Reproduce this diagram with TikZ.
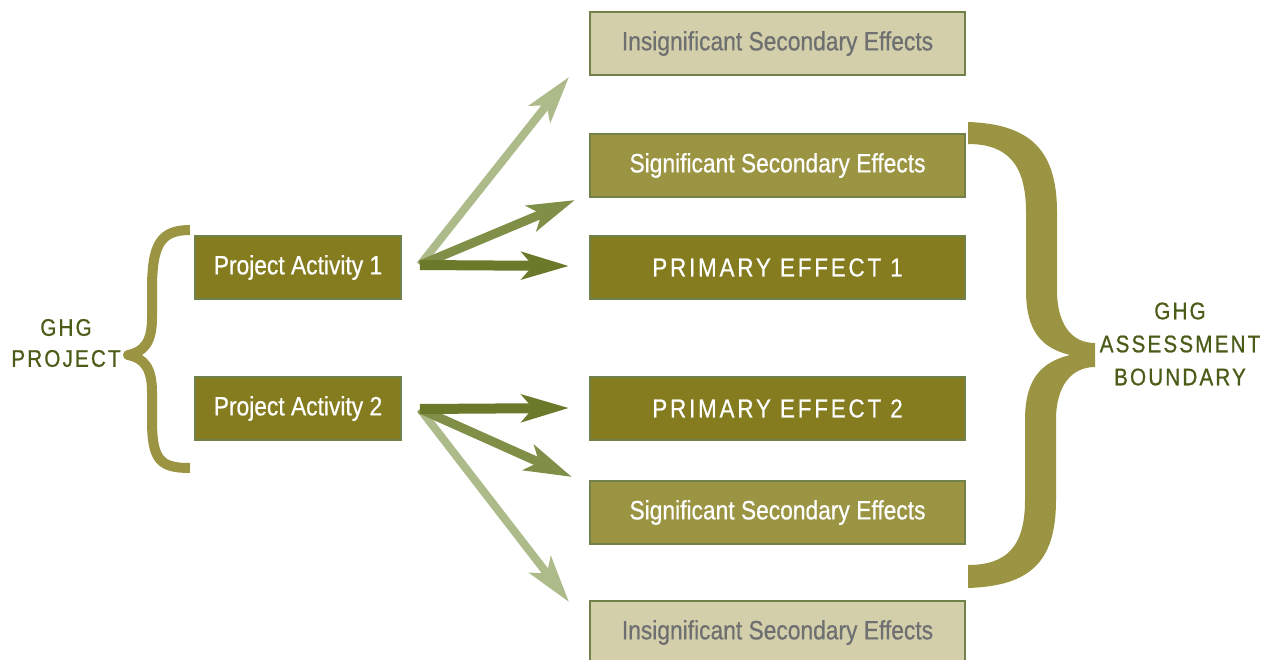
\documentclass[tikz,border=0pt]{standalone}
\usepackage{fontspec}
\setmainfont{Liberation Sans}[FakeStretch=0.86,FakeBold=0.6]
\newfontfamily\spaced{Liberation Sans}[FakeStretch=0.86,FakeBold=0.6,LetterSpace=11]
\newfontfamily\lblfont{Liberation Sans}[FakeStretch=0.86,FakeBold=0.8,LetterSpace=9]
\usetikzlibrary{arrows.meta}
\definecolor{pfill}{HTML}{847C1F}
\definecolor{sfill}{HTML}{9B9443}
\definecolor{ifill}{HTML}{D3CFAA}
\definecolor{bordc}{HTML}{71814A}
\definecolor{itext}{HTML}{6E6F71}
\definecolor{lbl}{HTML}{4B5B18}
\definecolor{adark}{HTML}{6B7A2A}
\definecolor{amed}{HTML}{7F8F48}
\definecolor{alight}{HTML}{ADBB8B}
\definecolor{bracec}{HTML}{9B9443}
\tikzset{
  box/.style={draw=bordc,line width=1.5pt,inner sep=0pt,minimum height=63pt,
    font=\fontsize{26.5}{30}\selectfont},
  effbox/.style={box,minimum width=375pt},
  insbox/.style={effbox,fill=ifill,text=itext},
  sigbox/.style={effbox,fill=sfill,text=white},
  primbox/.style={effbox,fill=pfill,text=white,font=\fontsize{26}{30}\selectfont\spaced},
  actbox/.style={box,fill=pfill,text=white,minimum width=206pt},
  lbltext/.style={text=lbl,align=center,font=\fontsize{24}{31}\selectfont\lblfont},
  arr/.style={-{Stealth[length=47pt,width=27pt,inset=11pt]}},
  arrdark/.style={arr,draw=adark,fill=adark,line width=10pt},
  arrmed/.style={arr,draw=amed,fill=amed,line width=9pt},
  arrlight/.style={arr,draw=alight,fill=alight,line width=8pt}
}
\begin{document}
\begin{tikzpicture}[x=1pt,y=-1pt]
\useasboundingbox (0,0) rectangle (1269,659);
\clip (0,0) rectangle (1269,659);
% boxes
\node[insbox]  (ins1) at (777.5,43.5)  {Insignificant Secondary Effects};
\node[sigbox]  (sig1) at (777.5,165.5) {Significant Secondary Effects};
\node[primbox] (pe1)  at (777.5,267.5) {PRIMARY EFFECT 1};
\node[primbox] (pe2)  at (777.5,408.5) {PRIMARY EFFECT 2};
\node[sigbox]  (sig2) at (777.5,512.5) {Significant Secondary Effects};
\node[insbox]  (ins2) at (777.5,632.5) {Insignificant Secondary Effects};
\node[actbox]  (pa1)  at (298,267.5) {Project Activity 1};
\node[actbox]  (pa2)  at (298,408.5) {Project Activity 2};
% labels
\node[lbltext] (ghgp) at (66,343) {GHG\\PROJECT};
\node[lbltext,font=\fontsize{24}{33}\selectfont\lblfont] (ghga) at (1180,344) {GHG\\ASSESSMENT\\BOUNDARY};
% arrow anchor points
\coordinate (o1) at (420,265);
\coordinate (o2) at (420,409);
\coordinate (t1l) at (569,77);
\coordinate (t1m) at (575,200);
\coordinate (t1d) at (569,266);
\coordinate (t2d) at (569,408);
\coordinate (t2m) at (572,477);
\coordinate (t2l) at (569,602);
\draw[arrlight] (o1) -- (t1l);
\draw[arrmed] (o1) -- (t1m);
\draw[arrdark] (o1) -- (t1d);
\draw[arrlight] (o2) -- (t2l);
\draw[arrmed] (o2) -- (t2m);
\draw[arrdark] (o2) -- (t2d);
% left brace
\draw[bracec,line width=10pt,line join=round] (190,230) .. controls (160,230) and (152,245) .. (152,290) -- (152,318) .. controls (152,342) and (144,352) .. (128,355) .. controls (144,358) and (152,368) .. (152,392) -- (152,420) .. controls (152,460) and (160,468) .. (190,468);
% right brace
\fill[bracec] (968,122) .. controls (1030,124) and (1057,150) .. (1057,212) -- (1057,290)
  .. controls (1057,325) and (1072,343) .. (1095,343) -- (1095,367)
  .. controls (1072,367) and (1056,385) .. (1056,420) -- (1056,500)
  .. controls (1056,562) and (1030,586) .. (968,588) -- (968,565)
  .. controls (1008,565) and (1025,545) .. (1025,500) -- (1025,420)
  .. controls (1025,378) and (1042,362) .. (1070,355)
  .. controls (1042,348) and (1026,332) .. (1026,290) -- (1026,212)
  .. controls (1026,165) and (1008,144) .. (968,144) -- cycle;
\end{tikzpicture}
\end{document}
